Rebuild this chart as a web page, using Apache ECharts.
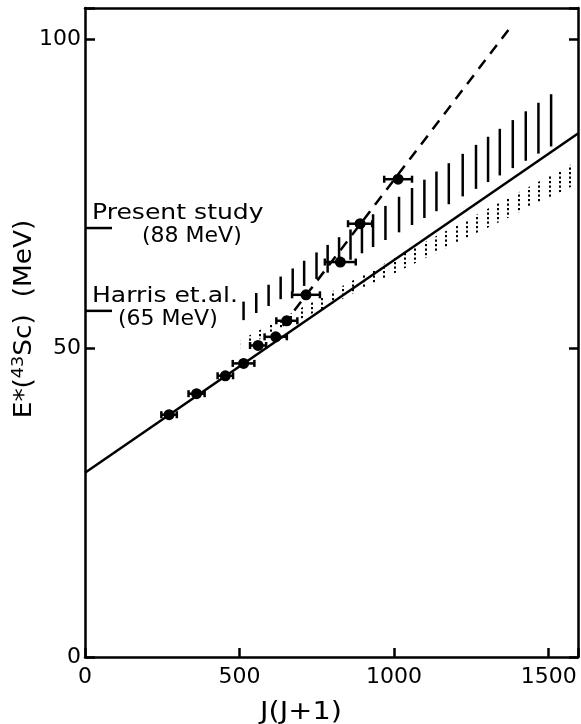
<!DOCTYPE html>
<html>
<head>
<meta charset="utf-8">
<script src="https://cdn.jsdelivr.net/npm/echarts@6/dist/echarts.min.js"></script>
<style>
  html, body { margin: 0; padding: 0; background: #fff; }
  #chart { width: 581px; height: 724px; }
</style>
</head>
<body>
<div id="chart"></div>
<script>
// Observed yrast levels: J(J+1), excitation energy (MeV), uncertainty in J(J+1)
const jj = [272, 361, 454, 513, 560, 617, 653, 715, 826, 890, 1013];
const energy = [39.2, 42.6, 45.5, 47.5, 50.4, 51.8, 54.4, 58.6, 63.9, 70.1, 77.3];
const jjErr = [25, 26, 25, 35, 26, 36, 34, 45, 50, 39, 45];

// Rotational lines (end points)
const solidLine = [[0, 29.8], [1595, 84.7]];
const dashedLine = [[640, 53.6], [1378, 102.0]];

// Present-study band (vertical hatching): edges and hatch positions
const hatchUpper = [[513, 57.5], [1508, 91.05]];
const hatchLower = [[513, 54.5], [1508, 82.6]];
const hatchJ = [513, 554, 594, 633, 672, 709, 749, 785, 822, 859, 896, 932, 972,
                1016, 1058, 1098, 1137, 1177, 1222, 1265, 1304, 1342, 1384, 1426, 1467, 1508];

// Harris et al. band (stippled): edges
const dotUpper = [[504, 51.3], [1595, 80.3]];
const dotLower = [[504, 49.9], [1595, 76.6]];

// Reference markers on the energy axis
const refLabels = ['Present study', 'Harris et.al.'];
const refSub = ['(88 MeV)', '(65 MeV)'];
const refE = [69.4, 56.0];

// Axis ticks
const xTicks = [0, 500, 1000, 1500];
const yTicks = [0, 50, 100];

const INK = '#000';
const FONT = '"DejaVu Sans", "Liberation Sans", sans-serif';
const LW = 2.5;

// point on a straight edge given by two end points
function edgeAt(seg, j) {
  return seg[0][1] + (seg[1][1] - seg[0][1]) * (j - seg[0][0]) / (seg[1][0] - seg[0][0]);
}

// stipple texture: columns of small dots
const stipple = (function () {
  const c = document.createElement('canvas');
  c.width = 31; c.height = 9;
  const g = c.getContext('2d');
  g.fillStyle = '#000';
  [0, 10, 21].forEach(function (cx) {
    [0, 4.5].forEach(function (cy) { g.fillRect(cx + 1, cy + 1, 2, 2.2); });
  });
  return { image: c, repeat: 'repeat' };
})();

const chart = echarts.init(document.getElementById('chart'), null, { renderer: 'canvas' });

const axisLineStyle = { color: INK, width: LW };

const option = {
  backgroundColor: '#fff',
  animation: false,
  grid: { left: 85, top: 8, width: 494, height: 649, containLabel: false },
  xAxis: [
    {
      type: 'value', min: 0, max: 1595, interval: 500, position: 'bottom',
      axisLine: { show: true, onZero: false, lineStyle: axisLineStyle },
      axisTick: { show: true, inside: true, length: 9, lineStyle: { color: INK, width: LW } },
      axisLabel: {
        show: true, margin: 9, color: INK, fontSize: 22, fontFamily: FONT,
        formatter: function (v) { return xTicks.indexOf(v) >= 0 ? String(v) : ''; }
      },
      splitLine: { show: false }
    },
    {
      type: 'value', min: 0, max: 1595, position: 'top',
      axisLine: { show: true, onZero: false, lineStyle: axisLineStyle },
      axisTick: { show: false }, axisLabel: { show: false }, splitLine: { show: false }
    }
  ],
  yAxis: [
    {
      type: 'value', min: 0, max: 105, interval: 50, position: 'left',
      axisLine: { show: true, onZero: false, lineStyle: axisLineStyle },
      axisTick: { show: true, inside: true, length: 10, lineStyle: { color: INK, width: LW } },
      axisLabel: {
        show: true, margin: 4, color: INK, fontSize: 22, fontFamily: FONT,
        formatter: function (v) { return yTicks.indexOf(v) >= 0 ? String(v) : ''; }
      },
      splitLine: { show: false }
    },
    {
      type: 'value', min: 0, max: 105, interval: 50, position: 'right',
      axisLine: { show: true, onZero: false, lineStyle: axisLineStyle },
      axisTick: { show: true, inside: true, length: 9, lineStyle: { color: INK, width: LW } },
      axisLabel: { show: false }, splitLine: { show: false }
    }
  ],
  series: [
    {
      // stippled band
      type: 'custom', name: 'Harris band', xAxisIndex: 0, yAxisIndex: 0, z: 1,
      data: [[dotLower[0][0], dotLower[0][1]]],
      renderItem: function (params, api) {
        const pts = [dotLower[0], dotLower[1], dotUpper[1], dotUpper[0]].map(function (p) { return api.coord(p); });
        return { type: 'polygon', shape: { points: pts }, style: { fill: stipple, stroke: null } };
      }
    },
    {
      // hatched band
      type: 'custom', name: 'Present band', xAxisIndex: 0, yAxisIndex: 0, z: 2,
      data: hatchJ.map(function (j) { return [j, edgeAt(hatchLower, j)]; }),
      renderItem: function (params, api) {
        const j = api.value(0);
        const a = api.coord([j, edgeAt(hatchLower, j)]);
        const b = api.coord([j, edgeAt(hatchUpper, j)]);
        return { type: 'line', shape: { x1: a[0], y1: a[1], x2: b[0], y2: b[1] },
                 style: { stroke: INK, lineWidth: LW } };
      }
    },
    {
      type: 'line', name: 'fit', data: solidLine, symbol: 'none', z: 3,
      lineStyle: { color: INK, width: LW }
    },
    {
      type: 'line', name: 'steep', data: dashedLine, symbol: 'none', z: 3,
      lineStyle: { color: INK, width: LW, type: [11, 8] }
    },
    {
      // horizontal error bars
      type: 'custom', name: 'errors', z: 4,
      data: jj.map(function (j, i) { return [j, energy[i], jjErr[i]]; }),
      renderItem: function (params, api) {
        const j = api.value(0), e = api.value(1), d = api.value(2);
        const a = api.coord([j - d, e]), b = api.coord([j + d, e]);
        const cap = 3.5;
        const st = { stroke: INK, lineWidth: LW };
        return { type: 'group', children: [
          { type: 'line', shape: { x1: a[0], y1: a[1], x2: b[0], y2: b[1] }, style: st },
          { type: 'line', shape: { x1: a[0], y1: a[1] - cap, x2: a[0], y2: a[1] + cap }, style: st },
          { type: 'line', shape: { x1: b[0], y1: b[1] - cap, x2: b[0], y2: b[1] + cap }, style: st }
        ] };
      }
    },
    {
      type: 'scatter', name: 'levels', z: 5,
      data: jj.map(function (j, i) { return [j, energy[i]]; }),
      symbol: 'circle', symbolSize: 11,
      itemStyle: { color: INK, opacity: 1 }
    },
    {
      // axis markers with their labels
      type: 'custom', name: 'markers', z: 6,
      data: refE.map(function (e) { return [0, e]; }),
      renderItem: function (params, api) {
        const i = params.dataIndex;
        const p = api.coord([0, api.value(1)]);
        const subDx = [57, 33];
        return { type: 'group', children: [
          { type: 'line', shape: { x1: p[0], y1: p[1], x2: p[0] + 27, y2: p[1] },
            style: { stroke: INK, lineWidth: LW } },
          { type: 'text', x: p[0] + 7, y: p[1] - 15, scaleX: 1.14,
            style: { text: refLabels[i], fontSize: 22, fontFamily: FONT, fill: INK,
                     align: 'left', verticalAlign: 'middle' } },
          { type: 'text', x: p[0] + subDx[i], y: p[1] + 8,
            style: { text: refSub[i], fontSize: 22, fontFamily: FONT, fill: INK,
                     align: 'left', verticalAlign: 'middle' } }
        ] };
      }
    }
  ],
  graphic: [
    {
      type: 'text', x: 25, y: 319, rotation: Math.PI / 2, scaleX: 1.1,
      style: {
        text: 'E*({sup|43}Sc)  (MeV)', fontSize: 24, fontFamily: FONT, fill: INK,
        align: 'center', verticalAlign: 'middle', lineHeight: 28,
        rich: { sup: { fontSize: 16, fontFamily: FONT, fill: INK, verticalAlign: 'top', lineHeight: 14 } }
      }
    },
    {
      type: 'text', x: 301, y: 712, scaleX: 1.15,
      style: { text: 'J(J+1)', fontSize: 25, fontFamily: FONT, fill: INK,
               align: 'center', verticalAlign: 'middle' }
    }
  ]
};

chart.setOption(option);
</script>
</body>
</html>
